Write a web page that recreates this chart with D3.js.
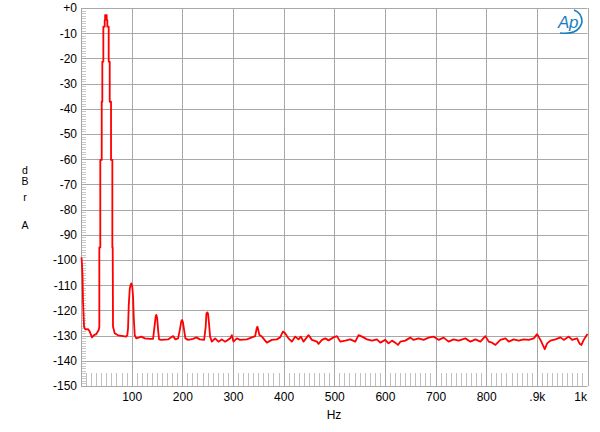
<!DOCTYPE html>
<html>
<head>
<meta charset="utf-8">
<script src="https://cdn.jsdelivr.net/npm/d3@7"></script>
<style>
  body { margin: 0; background: #fff; }
  svg { display: block; }
  text { font-family: "Liberation Sans", Arial, sans-serif; }
</style>
</head>
<body>
<svg id="chart" width="600" height="432"></svg>
<script>
// ---- data ----
const freqHz = [1, 2, 3, 4, 6, 8.5, 13.8, 17.2, 21.7, 25.7, 30.2, 35, 36.2,
  36.2, 38.1, 38.1, 40.9, 40.9, 42.1, 42.1, 44.1, 44.1, 46.8, 46.8, 47.6, 47.6,
  50.8, 50.8, 52.0, 52.0, 54.7, 54.7, 56.7, 56.7, 59.3, 59.3, 61.9, 61.9, 62.6,
  63.2, 66.6, 73.1, 83, 89.5, 91.5, 92.9, 94.3, 96.2, 97.8, 99.4, 101.2, 102.8, 104.1, 106.1, 109.3,
  119.2, 125.9, 135.8, 142.3, 144.3, 147.4, 148.8, 150.4, 152.2, 154.2, 158.7, 171.9, 181.8, 186.4,
  191.7, 195, 198.2, 199.6, 201.2, 203.6, 206.1, 211.5, 221.3, 227.9, 234.6, 243.1, 246.2, 247.6, 249.6,
  251, 252.4, 254.9, 258.3, 264.8, 271.3, 278, 284.6, 294.5, 297.8, 301, 307.7, 314.2,
  327.5, 337.3, 343.9, 347, 348.4, 350, 352.3, 357.1, 366.9, 376.8, 386.7, 393.2, 398.6,
  403.1, 409.6, 416.3, 422.9, 429.4, 434.1, 439.3, 449.2, 455.9, 465.8, 469,
  475.7, 482.2, 488.7, 498.6, 505.3, 511.8, 521.7, 531.6, 541.5, 548, 554.7,
  564.6, 574.5, 584.3, 590.9, 600.7, 607.2, 614, 620.5, 625.8, 630.4, 640.2,
  650.1, 656.6, 666.5, 676.4, 686.3, 696.2, 706.1, 715.9, 725.8, 735.7, 745.6,
  758.9, 768.8, 778.7, 788.5, 798.4, 805, 811.7, 818.2, 828.1, 838, 844.5,
  854.4, 864.3, 874.1, 884, 893.9, 900.6, 907.1, 911.7, 915.6, 920.4, 926.8,
  936.7, 946.6, 953.1, 963, 969.7, 979.5, 984.1, 988, 992.6, 997.3, 1000];
const levelDbr = [-99, -102, -106.5, -116.5, -126.5, -127.5, -127.4, -128.4, -130.7, -129.8, -129.4, -127.8, -126.5,
  -95, -95, -60.3, -60.3, -37.2, -37.2, -21.3, -21.3, -7.4, -7.4, -4.8, -4.8, -2.8,
  -2.8, -4.8, -4.8, -7.4, -7.4, -21.3, -21.3, -37.2, -37.2, -60.3, -60.3, -95, -95,
  -126.5, -129.1, -129.9, -130.2, -130.4, -129.8, -127, -117.9, -111.5, -110, -109.3, -110.5, -114.6, -122.5, -129.8, -131.1,
  -130.4, -131.1, -131.3, -131.3, -127.8, -122.5, -121.8, -123, -127.8, -131.5, -131.7, -131.5, -130.2, -131.5,
  -131.1, -127.8, -124.2, -123.8, -124.6, -127.8, -131.1, -131.7, -131.3, -130.7, -131.5, -131.7, -126.5, -121.3, -120.8,
  -121.5, -124.5, -130.4, -132.4, -131.1, -132.4, -131.5, -132.4, -131.1, -129.8, -132.4, -131.1, -131.7,
  -131.5, -130.7, -130.2, -127, -126.5, -127.8, -129.8, -130.4, -132.8, -131.7, -131.5, -130.7, -128.4,
  -129.1, -131.1, -132.4, -130.4, -131.5, -130.4, -132.4, -129.8, -131.7, -132.4, -133.3,
  -131.7, -131.1, -131.9, -130.7, -130.2, -132.4, -132, -131.5, -132.4, -129.8, -130.4,
  -131.5, -132, -131.5, -132.8, -131.7, -133.1, -132, -132.8, -133.7, -132.4, -132,
  -130.8, -131.7, -131.1, -131.7, -130.8, -130.4, -131.7, -130.8, -132.4, -131.5, -132,
  -131.1, -132.4, -131.5, -132.4, -130.2, -132.4, -132.8, -133.7, -131.7, -131.1, -132.4,
  -131.5, -132, -131.5, -131.7, -131.1, -129.4, -131.7, -133.7, -135.4, -133.1, -132,
  -131.5, -130.7, -131.7, -130.4, -131.7, -131.1, -133.1, -133.7, -131.7, -130.2, -129.4];
const xTickValues = [100, 200, 300, 400, 500, 600, 700, 800, 900, 1000];
const xTickLabels = ["100", "200", "300", "400", "500", "600", "700", "800", ".9k", "1k"];
const yTickValues = [0, -10, -20, -30, -40, -50, -60, -70, -80, -90, -100, -110, -120, -130, -140, -150];
const yTickLabels = ["+0", "-10", "-20", "-30", "-40", "-50", "-60", "-70", "-80", "-90", "-100", "-110", "-120", "-130", "-140", "-150"];
const xTitle = "Hz";
const yTitleLetters = ["d", "B", "r", "", "A"];

// ---- layout ----
const svg = d3.select("#chart");
const L = 81, R = 587.5, T = 8, B = 386;
const x = d3.scaleLinear().domain([0, 1000]).range([L, R]);
const y = d3.scaleLinear().domain([0, -150]).range([T, B]);
const gridColor = "#a8a8a8";

// minor ticks along left edge (every 1 dB)
const g = svg.append("g");
g.append("g").selectAll("line").data(d3.range(0, -151, -1).filter(v => v % 10 !== 0))
  .join("line")
  .attr("x1", L).attr("x2", L + 5)
  .attr("y1", d => Math.round(y(d)) + 0.5).attr("y2", d => Math.round(y(d)) + 0.5)
  .attr("stroke", "#c8c8c8").attr("stroke-width", 1);

// minor ticks along bottom (every 10 Hz)
g.append("g").selectAll("line").data(d3.range(10, 1000, 10).filter(v => v % 100 !== 0))
  .join("line")
  .attr("x1", d => Math.round(x(d)) + 0.5).attr("x2", d => Math.round(x(d)) + 0.5)
  .attr("y1", B).attr("y2", B - 13)
  .attr("stroke", "#c0c0c0").attr("stroke-width", 1);

// grid
g.append("g").selectAll("line").data(yTickValues)
  .join("line")
  .attr("x1", L).attr("x2", R)
  .attr("y1", d => Math.round(y(d)) + 0.5).attr("y2", d => Math.round(y(d)) + 0.5)
  .attr("stroke", gridColor).attr("stroke-width", 1);
g.append("g").selectAll("line").data([0].concat(xTickValues))
  .join("line")
  .attr("x1", d => Math.round(x(d)) + 0.5).attr("x2", d => Math.round(x(d)) + 0.5)
  .attr("y1", T).attr("y2", B)
  .attr("stroke", gridColor).attr("stroke-width", 1);

// axes labels via d3 axes
const yAxis = d3.axisLeft(y).tickValues(yTickValues)
  .tickFormat((d, i) => yTickLabels[i]).tickSize(0).tickPadding(4);
const ya = svg.append("g").attr("transform", `translate(${L},0)`).call(yAxis);
ya.select(".domain").remove();
ya.selectAll("text").attr("font-size", 12).attr("fill", "#000")
  .attr("font-family", "'Liberation Sans', Arial, sans-serif");

const xAxis = d3.axisBottom(x).tickValues(xTickValues)
  .tickFormat((d, i) => xTickLabels[i]).tickSize(0).tickPadding(6);
const xa = svg.append("g").attr("transform", `translate(0,${B})`).call(xAxis);
xa.select(".domain").remove();
xa.selectAll("text").attr("font-size", 12).attr("fill", "#000")
  .attr("font-family", "'Liberation Sans', Arial, sans-serif");
xa.selectAll(".tick").filter(d => d === 1000).select("text")
  .attr("text-anchor", "end").attr("x", -1);

// titles
svg.append("text").attr("x", 334).attr("y", 419).attr("text-anchor", "middle")
  .attr("font-size", 12).text(xTitle);
const yT = [173.5, 185, 201, 215, 229];
yTitleLetters.forEach((c, i) => {
  if (c) svg.append("text").attr("x", 25).attr("y", yT[i]).attr("text-anchor", "middle")
    .attr("font-size", 10.5).text(c);
});

// trace
const pts = freqHz.map((f, i) => [f, levelDbr[i]]);
svg.append("path").datum(pts)
  .attr("fill", "none").attr("stroke", "#ff0000").attr("stroke-width", 1.8)
  .attr("stroke-linejoin", "round")
  .attr("d", d3.line().x(d => x(d[0])).y(d => y(d[1])));

// AP logo
const logo = svg.append("g").attr("transform", "translate(570,22)");
logo.append("text").attr("x", -2).attr("y", 6).attr("text-anchor", "middle")
  .attr("font-size", 17).attr("font-style", "italic").attr("fill", "#1a7fc1")
  .attr("font-family", "'Liberation Sans', Arial, sans-serif").attr("letter-spacing", -0.5)
  .text("Ap");
logo.append("path").attr("d", "M -10 11 Q 9 13 12 0 Q 12 -9 4 -12")
  .attr("fill", "none").attr("stroke", "#1a7fc1").attr("stroke-width", 1.6);
</script>
</body>
</html>
